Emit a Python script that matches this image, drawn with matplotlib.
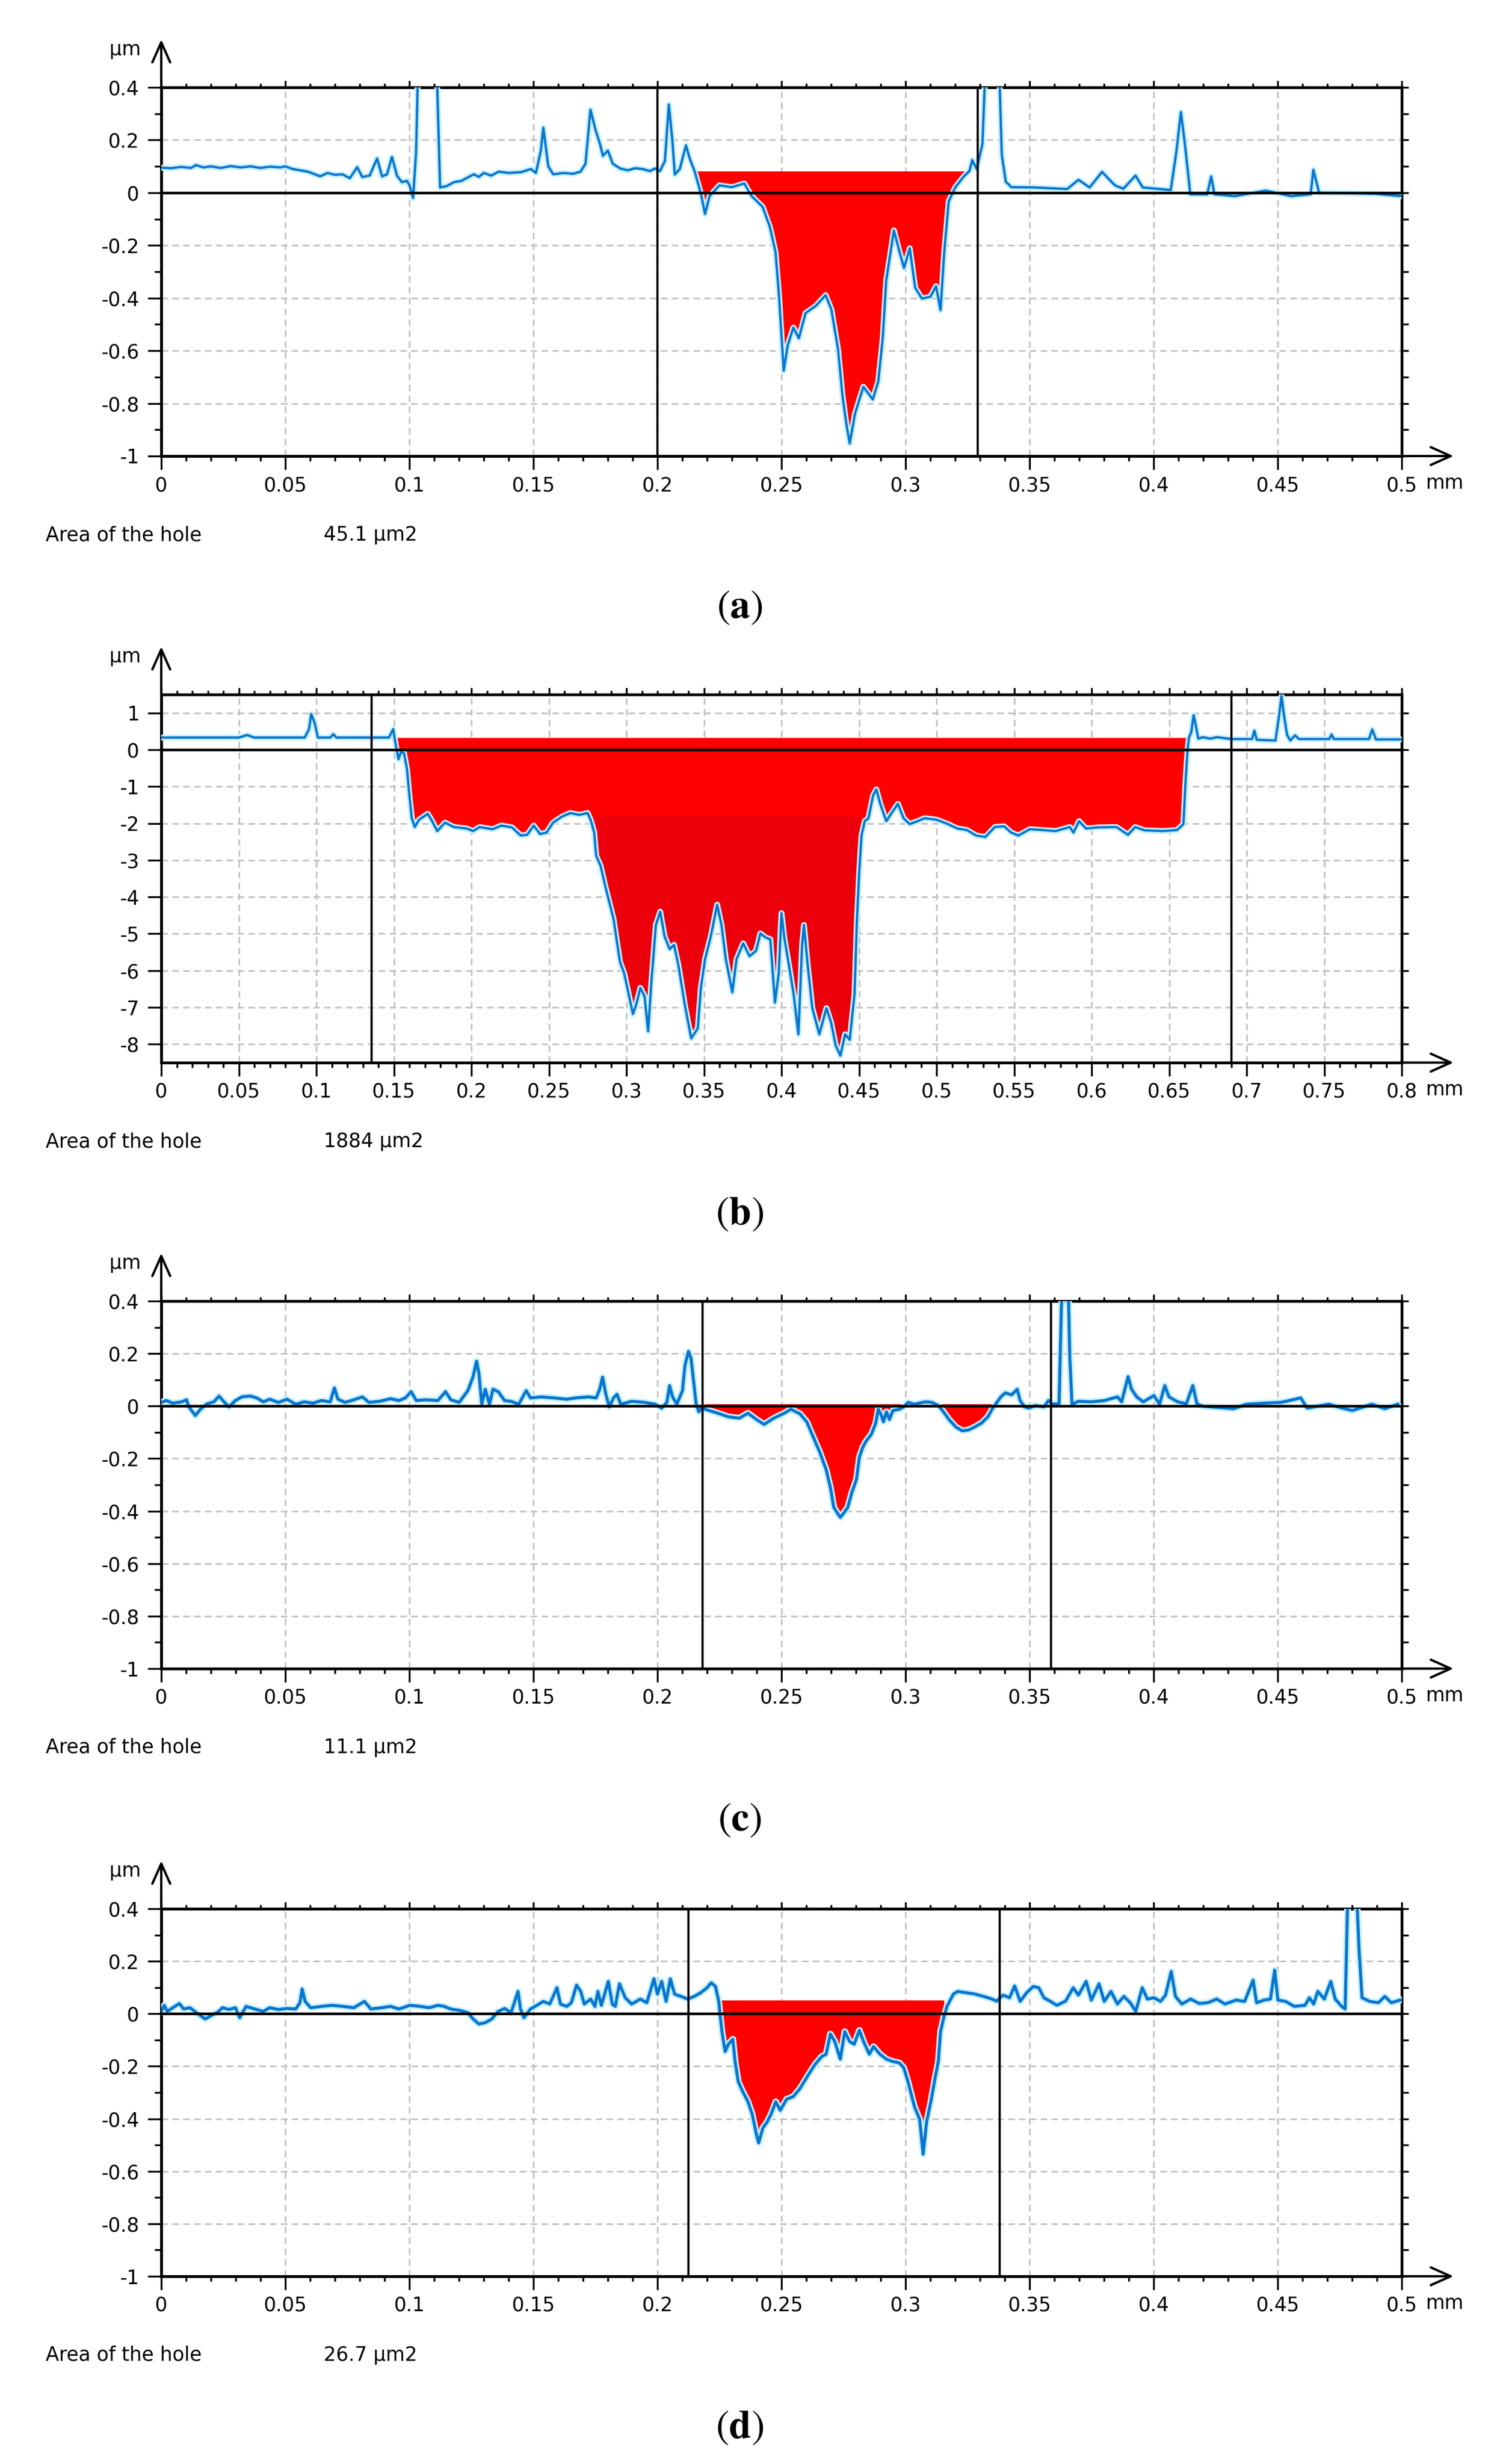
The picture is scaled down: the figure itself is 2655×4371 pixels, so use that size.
import numpy as np
import matplotlib
matplotlib.use('Agg')
import matplotlib.pyplot as plt
import matplotlib.patheffects as pe
from matplotlib import font_manager
from matplotlib.ticker import FixedLocator

# ---- profile (a) ----
xa = [0.000, 0.004, 0.008, 0.012, 0.014, 0.017, 0.020, 0.024, 0.028, 0.032, 0.036, 0.040, 0.044,
      0.048, 0.050, 0.053, 0.056, 0.059, 0.062, 0.064, 0.067, 0.070, 0.073, 0.076, 0.079, 0.081,
      0.084, 0.087, 0.089, 0.091, 0.093, 0.095, 0.097, 0.099, 0.100, 0.1015, 0.1027, 0.1037, 0.1108,
      0.1124, 0.115, 0.118, 0.121, 0.124, 0.126, 0.128, 0.130, 0.133, 0.136, 0.140, 0.145, 0.149,
      0.151, 0.153, 0.154, 0.156, 0.158, 0.162, 0.166, 0.169, 0.171, 0.173, 0.175, 0.177, 0.178,
      0.180, 0.182, 0.185, 0.188, 0.191, 0.194, 0.197, 0.199, 0.201, 0.203, 0.2046, 0.206, 0.207,
      0.209, 0.2115, 0.213, 0.215, 0.2176, 0.2192, 0.221, 0.225, 0.230, 0.235, 0.238, 0.2424,
      0.2453, 0.2476, 0.249, 0.2498, 0.2509, 0.2525, 0.2548, 0.257, 0.2597, 0.2638, 0.2678, 0.2701,
      0.2728, 0.2746, 0.2762, 0.2775, 0.2796, 0.283, 0.2868, 0.289, 0.2908, 0.2922, 0.2953, 0.2976,
      0.2994, 0.3017, 0.3039, 0.3066, 0.310, 0.3123, 0.3141, 0.3156, 0.3174, 0.3201, 0.3235, 0.3258,
      0.3269, 0.3287, 0.331, 0.3325, 0.3375, 0.3388, 0.3404, 0.3427, 0.3517, 0.3652, 0.3697, 0.3742,
      0.3792, 0.3844, 0.3878, 0.3927, 0.3956, 0.4069, 0.4092, 0.411, 0.4126, 0.4148, 0.4216, 0.4232,
      0.4245, 0.4328, 0.4452, 0.4554, 0.4633, 0.4644, 0.4667, 0.4779, 0.4892, 0.500]
ya = [0.095, 0.093, 0.098, 0.094, 0.105, 0.096, 0.100, 0.094, 0.101, 0.096, 0.100, 0.094, 0.099,
      0.096, 0.100, 0.090, 0.085, 0.080, 0.070, 0.062, 0.075, 0.068, 0.070, 0.055, 0.097, 0.060,
      0.065, 0.130, 0.062, 0.070, 0.136, 0.065, 0.040, 0.045, 0.030, -0.020, 0.150, 0.550, 0.550,
      0.020, 0.025, 0.040, 0.045, 0.060, 0.070, 0.060, 0.075, 0.065, 0.080, 0.075, 0.078, 0.090,
      0.075, 0.160, 0.247, 0.100, 0.070, 0.075, 0.072, 0.080, 0.110, 0.315, 0.240, 0.180, 0.140,
      0.160, 0.110, 0.092, 0.085, 0.093, 0.090, 0.082, 0.092, 0.082, 0.120, 0.335, 0.200, 0.069,
      0.090, 0.180, 0.130, 0.081, -0.006, -0.081, -0.013, 0.028, 0.021, 0.035, -0.013, -0.054,
      -0.129, -0.225, -0.389, -0.512, -0.676, -0.580, -0.512, -0.553, -0.457, -0.430, -0.389, -0.443,
      -0.594, -0.772, -0.881, -0.952, -0.840, -0.737, -0.785, -0.717, -0.553, -0.334, -0.143, -0.225,
      -0.286, -0.211, -0.361, -0.402, -0.395, -0.355, -0.446, -0.225, -0.033, 0.021, 0.062, 0.083,
      0.124, 0.090, 0.185, 0.550, 0.550, 0.144, 0.042, 0.021, 0.020, 0.014, 0.049, 0.020,
      0.079, 0.028, 0.015, 0.065, 0.020, 0.010, 0.158, 0.306, 0.185, -0.006, -0.006, 0.062,
      -0.006, -0.013, 0.008, -0.013, -0.006, 0.087, 0.000, -0.002, -0.004, -0.013]

# ---- profile (b) ----
xb = [0.000, 0.050, 0.0554, 0.060, 0.0925, 0.0953, 0.0967, 0.099, 0.101, 0.109, 0.111, 0.113,
      0.1468, 0.1496, 0.1504, 0.1516, 0.153, 0.1546, 0.1566, 0.1585, 0.1602, 0.1616, 0.1635, 0.1663,
      0.1719, 0.1747, 0.178, 0.183, 0.1886, 0.197, 0.2011, 0.2053, 0.2137, 0.2193, 0.2262, 0.2318,
      0.236, 0.2402, 0.2443, 0.2485, 0.2527, 0.2583, 0.2638, 0.2694, 0.275, 0.2772, 0.2792, 0.2805,
      0.2833, 0.2861, 0.2889, 0.2917, 0.2939, 0.2959, 0.2986, 0.3014, 0.3042, 0.3062, 0.309, 0.3117,
      0.314, 0.3162, 0.319, 0.3218, 0.3246, 0.3279, 0.3307, 0.3335, 0.3377, 0.3418, 0.346, 0.348,
      0.3507, 0.3544, 0.3585, 0.3613, 0.3641, 0.3683, 0.371, 0.3753, 0.3794, 0.3836, 0.3864, 0.3897,
      0.3928, 0.3958, 0.3982, 0.400, 0.4018, 0.4048, 0.4078, 0.4109, 0.4133, 0.4145, 0.4169, 0.4199,
      0.4244, 0.429, 0.432, 0.435, 0.438, 0.441, 0.444, 0.4471, 0.4486, 0.4501, 0.4516, 0.4537,
      0.4561, 0.4591, 0.4612, 0.4637, 0.4676, 0.4712, 0.4751, 0.4787, 0.4827, 0.4878, 0.4923, 0.4999,
      0.5074, 0.5134, 0.5195, 0.5255, 0.5315, 0.5376, 0.5436, 0.5481, 0.5527, 0.5602, 0.5677, 0.5768,
      0.5859, 0.5883, 0.5919, 0.5964, 0.604, 0.616, 0.6235, 0.6281, 0.6341, 0.6462, 0.6552, 0.6592,
      0.6607, 0.6619, 0.6628, 0.6643, 0.6658, 0.6673, 0.6688, 0.6718, 0.6764, 0.6809, 0.690, 0.7035,
      0.705, 0.7065, 0.7186, 0.721, 0.7225, 0.724, 0.7261, 0.7282, 0.7312, 0.7337, 0.7533, 0.7548,
      0.7563, 0.7789, 0.781, 0.7834, 0.800]
yb = [0.33, 0.33, 0.40, 0.33, 0.33, 0.56, 0.97, 0.72, 0.33, 0.33, 0.42, 0.33,
      0.33, 0.56, 0.33, 0.05, -0.26, -0.06, -0.10, -0.53, -1.31, -1.86, -2.10, -1.90,
      -1.74, -1.94, -2.21, -1.98, -2.10, -2.14, -2.21, -2.10, -2.16, -2.06, -2.11, -2.33,
      -2.31, -2.06, -2.29, -2.25, -1.98, -1.82, -1.72, -1.77, -1.72, -1.94, -2.25, -2.88,
      -3.15, -3.66, -4.13, -4.60, -5.22, -5.77, -6.08, -6.63, -7.18, -6.94, -6.47, -6.70,
      -7.65, -6.24, -4.76, -4.40, -5.07, -5.42, -5.30, -5.85, -6.94, -7.84, -7.57, -6.47,
      -5.69, -5.07, -4.21, -4.76, -5.69, -6.59, -5.69, -5.26, -5.61, -5.46, -4.99, -5.10,
      -5.15, -6.87, -6.08, -4.44, -5.10, -5.85, -6.63, -7.73, -5.30, -4.76, -5.85, -7.02,
      -7.73, -7.02, -7.41, -8.04, -8.31, -7.73, -7.88, -6.63, -4.68, -3.35, -2.33, -1.94,
      -1.86, -1.24, -1.08, -1.47, -1.94, -1.71, -1.47, -1.86, -2.02, -1.94, -1.86, -1.90,
      -2.02, -2.14, -2.18, -2.33, -2.37, -2.10, -2.08, -2.25, -2.33, -2.16, -2.18, -2.21,
      -2.10, -2.25, -1.94, -2.14, -2.11, -2.10, -2.31, -2.10, -2.19, -2.21, -2.18, -2.02,
      -0.77, 0.01, 0.33, 0.48, 0.94, 0.64, 0.30, 0.34, 0.30, 0.34, 0.29, 0.29,
      0.52, 0.27, 0.25, 0.95, 1.46, 0.95, 0.40, 0.25, 0.39, 0.29, 0.29, 0.41,
      0.29, 0.29, 0.55, 0.28, 0.28]

# ---- profile (c) ----
xc = [0.000, 0.002, 0.0047, 0.0082, 0.0102, 0.011, 0.0137, 0.016, 0.0186, 0.0212, 0.0233, 0.0255,
      0.0273, 0.0299, 0.0325, 0.0359, 0.0385, 0.0411, 0.0437, 0.0472, 0.0507, 0.0542, 0.0576, 0.0611,
      0.0646, 0.0681, 0.0698, 0.0712, 0.0741, 0.0767, 0.0811, 0.0837, 0.088, 0.0924, 0.0958, 0.0984,
      0.1007, 0.1028, 0.1063, 0.1115, 0.1146, 0.1167, 0.1201, 0.1236, 0.1257, 0.1271, 0.1281, 0.1292,
      0.1306, 0.1323, 0.1337, 0.1358, 0.1384, 0.141, 0.1441, 0.1471, 0.1488, 0.1531, 0.1583, 0.1635,
      0.167, 0.1722, 0.1753, 0.1767, 0.1779, 0.1792, 0.1806, 0.1823, 0.1837, 0.1852, 0.1896, 0.1948,
      0.1991, 0.2017, 0.2038, 0.2049, 0.2061, 0.2078, 0.2101, 0.2111, 0.2125, 0.2135, 0.2146, 0.2156,
      0.2167, 0.218, 0.2191, 0.2243, 0.2286, 0.233, 0.2365, 0.2399, 0.243, 0.2469, 0.2512, 0.2538,
      0.2575, 0.2602, 0.2628, 0.2654, 0.268, 0.2697, 0.2711, 0.2727, 0.2737, 0.2749, 0.2767, 0.2784,
      0.2802, 0.2814, 0.2828, 0.2842, 0.2862, 0.288, 0.289, 0.2901, 0.2911, 0.2923, 0.2935, 0.2949,
      0.2975, 0.2993, 0.301, 0.3036, 0.3054, 0.308, 0.3106, 0.3132, 0.3149, 0.3175, 0.3202, 0.3228,
      0.3254, 0.328, 0.3306, 0.3332, 0.3349, 0.3363, 0.3384, 0.3402, 0.3428, 0.345, 0.3462, 0.348,
      0.3497, 0.3523, 0.3558, 0.3576, 0.3593, 0.3619, 0.3628, 0.3636, 0.3654, 0.3662, 0.3671, 0.3697,
      0.3749, 0.3802, 0.3854, 0.3871, 0.3897, 0.3911, 0.3932, 0.3958, 0.4001, 0.4024, 0.4045, 0.4062,
      0.4097, 0.4132, 0.4158, 0.4175, 0.4201, 0.4254, 0.4323, 0.4375, 0.4445, 0.4514, 0.4593, 0.4619,
      0.4706, 0.4749, 0.4801, 0.4879, 0.4932, 0.4984]
yc = [0.014, 0.021, 0.011, 0.016, 0.024, -0.001, -0.036, -0.010, 0.009, 0.016, 0.038, 0.014,
      -0.003, 0.021, 0.035, 0.038, 0.031, 0.016, 0.026, 0.014, 0.026, 0.007, 0.016, 0.011,
      0.021, 0.016, 0.069, 0.026, 0.014, 0.021, 0.035, 0.014, 0.018, 0.028, 0.021, 0.031,
      0.055, 0.021, 0.024, 0.021, 0.055, 0.024, 0.014, 0.059, 0.112, 0.171, 0.121, 0.007,
      0.064, 0.007, 0.064, 0.055, 0.021, 0.018, 0.007, 0.059, 0.031, 0.035, 0.031, 0.026,
      0.031, 0.035, 0.031, 0.064, 0.110, 0.045, -0.003, 0.031, 0.045, 0.007, 0.018, 0.014,
      0.007, -0.008, 0.014, 0.078, 0.035, 0.007, 0.059, 0.155, 0.208, 0.184, 0.093, 0.007,
      -0.022, -0.003, -0.012, -0.027, -0.041, -0.046, -0.027, -0.051, -0.070, -0.046, -0.027, -0.012,
      -0.030, -0.060, -0.118, -0.175, -0.242, -0.309, -0.386, -0.410, -0.424, -0.410, -0.386, -0.328,
      -0.280, -0.194, -0.156, -0.132, -0.108, -0.065, -0.012, -0.032, -0.060, -0.022, -0.051, -0.017,
      -0.012, -0.003, 0.014, 0.007, 0.011, 0.016, 0.014, 0.002, -0.017, -0.051, -0.079, -0.094,
      -0.091, -0.079, -0.065, -0.041, -0.012, 0.007, 0.035, 0.050, 0.043, 0.064, 0.021, -0.003,
      -0.008, 0.002, -0.003, 0.021, 0.007, 0.009, 0.370, 0.550, 0.550, 0.190, 0.007, 0.018,
      0.016, 0.021, 0.035, 0.016, 0.112, 0.064, 0.035, 0.016, 0.040, 0.007, 0.078, 0.035,
      0.016, 0.009, 0.078, 0.007, -0.001, -0.005, -0.010, 0.007, 0.011, 0.014, 0.031, -0.008,
      0.007, -0.005, -0.017, 0.007, -0.010, 0.007]

# ---- profile (d) ----
xd = [0.000, 0.0012, 0.0024, 0.0047, 0.0073, 0.009, 0.0116, 0.0142, 0.0177, 0.0203, 0.0229, 0.0247,
      0.0273, 0.0299, 0.0316, 0.0342, 0.0377, 0.0411, 0.0437, 0.0472, 0.0507, 0.0542, 0.0559, 0.0568,
      0.058, 0.0602, 0.0646, 0.0689, 0.0733, 0.0776, 0.0819, 0.0845, 0.0889, 0.0924, 0.0958, 0.1002,
      0.1045, 0.108, 0.1115, 0.1141, 0.1167, 0.1201, 0.1236, 0.1257, 0.128, 0.1306, 0.1332, 0.1358,
      0.1384, 0.141, 0.1438, 0.1448, 0.1462, 0.1488, 0.1514, 0.154, 0.1566, 0.1595, 0.1609, 0.1635,
      0.1653, 0.1674, 0.1691, 0.1705, 0.1731, 0.1748, 0.176, 0.1774, 0.1802, 0.1818, 0.183, 0.1847,
      0.187, 0.1896, 0.1931, 0.1957, 0.1986, 0.200, 0.2017, 0.2035, 0.2052, 0.2069, 0.2095, 0.2122,
      0.2148, 0.2174, 0.220, 0.2217, 0.2234, 0.2247, 0.226, 0.2273, 0.2286, 0.2304, 0.2313, 0.2326,
      0.2344, 0.2365, 0.2382, 0.2399, 0.2408, 0.2425, 0.2443, 0.246, 0.2477, 0.2495, 0.2521, 0.2547,
      0.2573, 0.261, 0.2636, 0.2662, 0.268, 0.2697, 0.2715, 0.2737, 0.2755, 0.2775, 0.2793, 0.2814,
      0.2831, 0.2854, 0.2871, 0.2897, 0.2923, 0.2949, 0.2975, 0.2993, 0.301, 0.3036, 0.3057, 0.3071,
      0.3085, 0.3102, 0.312, 0.3132, 0.3141, 0.3155, 0.3167, 0.3193, 0.321, 0.3245, 0.328, 0.3315,
      0.3349, 0.3367, 0.3393, 0.3419, 0.344, 0.3462, 0.3488, 0.3515, 0.3537, 0.3558, 0.3584, 0.361,
      0.3645, 0.3676, 0.3697, 0.3728, 0.3749, 0.378, 0.3801, 0.3828, 0.3854, 0.388, 0.3906, 0.3928,
      0.3954, 0.3975, 0.4001, 0.4028, 0.4048, 0.4071, 0.4088, 0.4114, 0.4149, 0.4184, 0.4219, 0.4254,
      0.4288, 0.4332, 0.4367, 0.4401, 0.4415, 0.4445, 0.4471, 0.4488, 0.4501, 0.4532, 0.4567, 0.461,
      0.4628, 0.4645, 0.4662, 0.4688, 0.4714, 0.4732, 0.4758, 0.4772, 0.4781, 0.4793, 0.4814, 0.4828,
      0.484, 0.4871, 0.4906, 0.4932, 0.4958, 0.4993]
yd = [0.009, 0.032, 0.009, 0.023, 0.039, 0.018, 0.023, 0.004, -0.020, -0.006, 0.007, 0.023,
      0.016, 0.023, -0.015, 0.028, 0.018, 0.009, 0.023, 0.016, 0.020, 0.018, 0.042, 0.094,
      0.047, 0.023, 0.028, 0.032, 0.028, 0.023, 0.047, 0.018, 0.023, 0.028, 0.018, 0.032,
      0.028, 0.023, 0.032, 0.028, 0.018, 0.013, 0.004, -0.020, -0.039, -0.034, -0.020, 0.009,
      0.020, 0.004, 0.085, 0.018, -0.015, 0.018, 0.032, 0.047, 0.037, 0.099, 0.037, 0.028,
      0.042, 0.109, 0.085, 0.037, 0.056, 0.028, 0.085, 0.032, 0.123, 0.037, 0.028, 0.114,
      0.061, 0.037, 0.056, 0.042, 0.133, 0.075, 0.123, 0.047, 0.133, 0.075, 0.066, 0.056,
      0.066, 0.080, 0.099, 0.118, 0.104, 0.047, -0.068, -0.144, -0.116, -0.097, -0.182, -0.259,
      -0.297, -0.335, -0.383, -0.459, -0.492, -0.435, -0.411, -0.378, -0.335, -0.368, -0.325, -0.316,
      -0.287, -0.230, -0.192, -0.163, -0.154, -0.077, -0.106, -0.173, -0.068, -0.106, -0.116, -0.063,
      -0.106, -0.154, -0.125, -0.154, -0.173, -0.182, -0.187, -0.206, -0.259, -0.354, -0.402, -0.535,
      -0.411, -0.335, -0.240, -0.182, -0.068, -0.011, 0.028, 0.075, 0.085, 0.080, 0.075, 0.066,
      0.056, 0.048, 0.071, 0.061, 0.106, 0.047, 0.080, 0.104, 0.099, 0.061, 0.047, 0.032,
      0.048, 0.099, 0.071, 0.123, 0.052, 0.114, 0.047, 0.085, 0.037, 0.066, 0.042, 0.009,
      0.099, 0.056, 0.061, 0.047, 0.071, 0.161, 0.066, 0.037, 0.056, 0.039, 0.042, 0.056,
      0.037, 0.052, 0.047, 0.128, 0.042, 0.052, 0.056, 0.166, 0.052, 0.047, 0.028, 0.032,
      0.061, 0.037, 0.085, 0.056, 0.123, 0.056, 0.028, 0.018, 0.390, 0.550, 0.550, 0.247,
      0.061, 0.047, 0.042, 0.066, 0.042, 0.052]

# hole limits (start, end, reference level) and cursor positions
holes = [(0.215, 0.3258, 0.082), (0.1508, 0.663, 0.33), (0.2182, 0.3363, 0.008), (0.2247, 0.316, 0.052)]
cursors = [(0.2, 0.329), (0.1357, 0.69), (0.2182, 0.3587), (0.2125, 0.338)]
areas = ['45.1 µm2', '1884 µm2', '11.1 µm2', '26.7 µm2']
panel_tags = ['a', 'b', 'c', 'd']

# axes ranges and ticks
xmax = [0.5, 0.8, 0.5, 0.5]
ylims = [(-1, 0.4), (-8.5, 1.5), (-1, 0.4), (-1, 0.4)]
yticks_small = [-1, -0.8, -0.6, -0.4, -0.2, 0, 0.2, 0.4]
ylabels_small = ['-1', '-0.8', '-0.6', '-0.4', '-0.2', '0', '0.2', '0.4']
yticks_big = [-8, -7, -6, -5, -4, -3, -2, -1, 0, 1]
ylabels_big = ['-8', '-7', '-6', '-5', '-4', '-3', '-2', '-1', '0', '1']

W, H = 2655, 4371
names = {f.name for f in font_manager.fontManager.ttflist}
sans = 'Liberation Sans Narrow' if 'Liberation Sans Narrow' in names else 'DejaVu Sans'
plt.rcParams['font.family'] = [sans, 'DejaVu Sans']
plt.rcParams['mathtext.fontset'] = 'stix'
FS = 8.3

fig = plt.figure(figsize=(W / 300, H / 300), dpi=300)

# axes boxes in pixels
left_px, right_px = 286, 2486
tops = [155, 1232, 2308, 3386]
bottoms = [809, 1885, 2960, 4038]

BLUE = '#0876cf'
profiles = [(xa, ya), (xb, yb), (xc, yc), (xd, yd)]


def fx(px):
    return px / W


def fy(py):
    return 1 - py / H


for i, (x, y) in enumerate(profiles):
    x = np.array(x)
    y = np.array(y)
    top, bot = tops[i], bottoms[i]
    ax = fig.add_axes([fx(left_px), fy(bot), (right_px - left_px) / W, (bot - top) / H])
    ax.set_xlim(0, xmax[i])
    ax.set_ylim(*ylims[i])

    # ticks
    xmaj = np.round(np.arange(0, xmax[i] + 1e-9, 0.05), 2)
    xmin = np.round(np.arange(0, xmax[i] + 1e-9, 0.01), 2)
    xlab = ['0' if v == 0 else ('%g' % v) for v in xmaj]
    ax.xaxis.set_major_locator(FixedLocator(xmaj))
    ax.xaxis.set_minor_locator(FixedLocator(xmin))
    ax.set_xticklabels(xlab, fontsize=FS)
    if i == 1:
        ax.yaxis.set_major_locator(FixedLocator(yticks_big))
        ax.set_yticklabels(ylabels_big, fontsize=FS)
        ymin_t = yticks_big
    else:
        ax.yaxis.set_major_locator(FixedLocator(yticks_small))
        ax.set_yticklabels(ylabels_small, fontsize=FS)
        ymin_t = list(np.round(np.arange(-1, 0.41, 0.1), 1))
        ax.yaxis.set_minor_locator(FixedLocator(ymin_t))
    ax.tick_params(axis='x', which='major', direction='out', length=5.8, width=0.8, pad=2.6)
    ax.tick_params(axis='x', which='minor', direction='out', length=2.2, width=0.8)
    ax.tick_params(axis='y', which='major', direction='out', length=5.8, width=0.8, pad=3.6)
    ax.tick_params(axis='y', which='minor', direction='out', length=2.9, width=0.8)

    topax = ax.secondary_xaxis('top')
    topax.xaxis.set_major_locator(FixedLocator(xmaj))
    topax.xaxis.set_minor_locator(FixedLocator(xmin))
    topax.tick_params(which='major', direction='out', length=3.0, width=0.8, labeltop=False)
    topax.tick_params(which='minor', direction='out', length=1.8, width=0.8)
    topax.spines['top'].set_linewidth(1.2)

    rax = ax.secondary_yaxis('right')
    rax.yaxis.set_major_locator(FixedLocator(ymin_t))
    rax.tick_params(which='major', direction='out', length=2.9, width=0.8, labelright=False)
    rax.yaxis.set_minor_locator(FixedLocator([]))
    rax.spines['right'].set_linewidth(1.2)

    for s in ax.spines.values():
        s.set_linewidth(1.2)

    ax.grid(True, which='major', color='#c3c3c3', linestyle=(0, (4, 2.6)), linewidth=0.7)
    ax.set_axisbelow(True)

    # hole fill
    x0, x1, lev = holes[i]
    mask = (x >= x0) & (x <= x1)
    ax.fill_between(x, np.minimum(y, lev), lev, where=mask, color='#ff0000', lw=0, zorder=2)
    if i == 1:
        dmask = (x >= 0.279) & (x <= 0.4505)
        ax.fill_between(x, np.minimum(y, -1.8), -1.8, where=dmask, color='#ec000b', lw=0, zorder=2.1)

    lw = 1.0 if i < 2 else 1.3
    ax.plot(x, y, color=BLUE, lw=lw, zorder=3,
            path_effects=[pe.Stroke(linewidth=lw + 1.5, foreground='#c6efff'), pe.Normal()])

    ax.axhline(0, color='black', lw=1.1, zorder=4)
    for c in cursors[i]:
        ax.axvline(c, color='black', lw=0.9, zorder=4)

    # axis arrows
    hy = 85 / (bot - top)
    ax.annotate('', xy=(0, 1 + hy), xytext=(0, 1), xycoords='axes fraction',
                arrowprops=dict(arrowstyle='->,head_length=0.85,head_width=0.38', lw=1.0,
                                color='black', shrinkA=0, shrinkB=0), annotation_clip=False)
    ax.annotate('', xy=(1 + 92 / 2200, 0), xytext=(1, 0), xycoords='axes fraction',
                arrowprops=dict(arrowstyle='->,head_length=0.85,head_width=0.38', lw=1.0,
                                color='black', shrinkA=0, shrinkB=0), annotation_clip=False)

    # texts
    fig.text(fx(250), fy(top - 67), 'µm', fontsize=FS, ha='right', va='center')
    fig.text(fx(2529), fy(bot + 48), 'mm', fontsize=FS, ha='left', va='center')
    fig.text(fx(81), fy(bot + 140), 'Area of the hole', fontsize=FS, ha='left', va='center')
    fig.text(fx(574), fy(bot + 140), areas[i], fontsize=FS, ha='left', va='center')
    fig.text(fx(1312), fy(bot + 268), r'$(\mathbf{%s})$' % panel_tags[i], fontsize=17,
             ha='center', va='center')

fig.savefig('out.png', dpi=300)
